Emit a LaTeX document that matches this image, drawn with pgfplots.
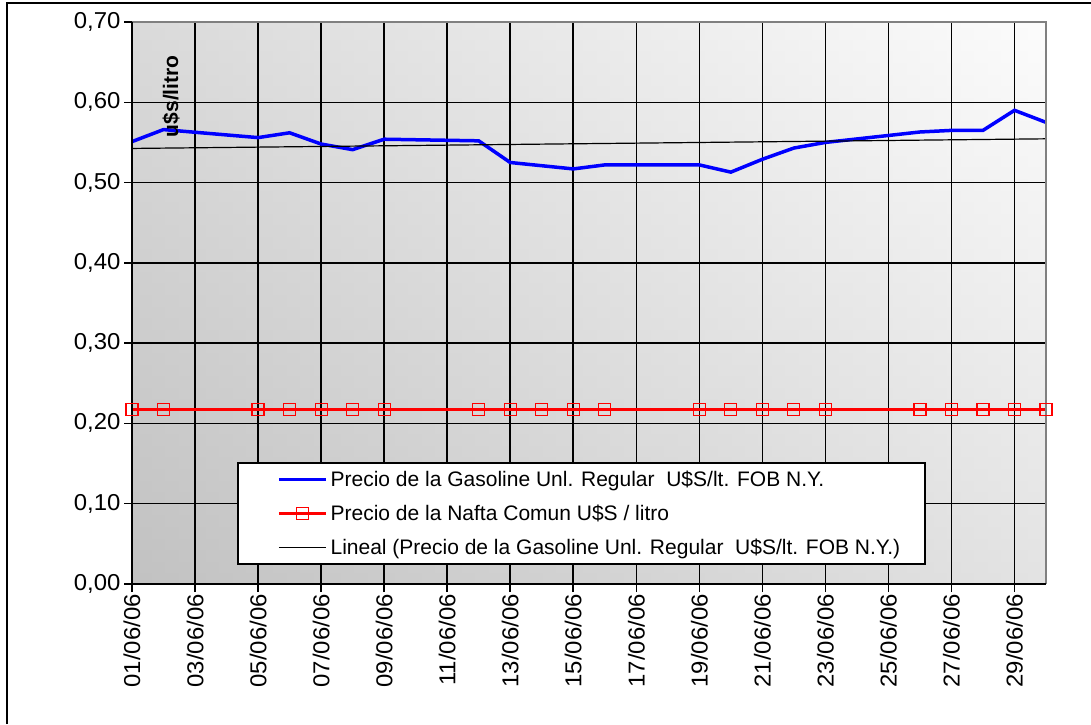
\documentclass[border=0pt]{standalone}
\usepackage{pgfplots}
\pgfplotsset{compat=1.18}
\usepackage{fontspec}
\setmainfont{Liberation Sans}
\newfontfamily\widefont[FakeStretch=1.04]{Liberation Sans}
\begin{document}
\begin{tikzpicture}[x=1pt,y=1pt]
\useasboundingbox (0,0) rectangle (1091,724);
\draw[line width=2pt] (7,0) -- (7,721) -- (1091,721);
\begin{axis}[
  at={(132pt,140pt)}, anchor=south west,
  scale only axis, width=914pt, height=562pt,
  xmin=1, xmax=30, ymin=0, ymax=0.7,
  clip=false,
  font=\fontsize{21}{24}\selectfont,
  axis background/.style={preaction={fill, left color=black!29, right color=white!97.6!black},
     top color=white, bottom color=black!19, fill opacity=0.5},
  axis line style={draw=none},
  tick pos=left, tick align=outside, major tick length=8pt,
  tick style={black, line width=1.5pt},
  grid=major, major grid style={black, line width=1.5pt},
  tick label style={font=\widefont\fontsize{23}{25}\selectfont},
  xtick={1,3,5,7,9,11,13,15,17,19,21,23,25,27,29},
  xticklabels={01/06/06,03/06/06,05/06/06,07/06/06,09/06/06,11/06/06,13/06/06,15/06/06,17/06/06,19/06/06,21/06/06,23/06/06,25/06/06,27/06/06,29/06/06},
  xticklabel style={rotate=90, anchor=east, inner sep=2pt},
  ytick={0,0.1,0.2,0.3,0.4,0.5,0.6,0.7},
  yticklabel style={/pgf/number format/.cd, fixed, fixed zerofill, precision=2, use comma, assume math mode=true},
  ylabel={\fontsize{21}{23}\selectfont\bfseries u\$s/litro},
  ylabel style={at={(axis description cs:0.0427,0.868)}, anchor=center},
  legend style={at={(0.115,0.034)}, anchor=south west, draw=black, line width=1.5pt, fill=white,
    inner xsep=22pt, inner ysep=5pt, row sep=11pt, font=\fontsize{21}{24}\selectfont,
    nodes={inner sep=3pt}},
  legend cell align=left,
  legend image code/.code={\path[draw=none, mark=none] (0pt,0pt) -- (19pt,0pt); \draw[mark repeat=2, mark phase=2, #1] plot coordinates {(19pt,0pt) (42.5pt,0pt) (66pt,0pt)};},
]
\addplot[blue, line width=3.5pt] coordinates {
(1,0.551) (2,0.566) (5,0.556) (6,0.562) (7,0.548) (8,0.541) (9,0.554) (12,0.552)
(13,0.525) (14,0.521) (15,0.517) (16,0.522) (19,0.522) (20,0.513) (21,0.529) (22,0.543)
(23,0.550) (26,0.563) (27,0.565) (28,0.565) (29,0.590) (30,0.575)};
\addlegendentry{Precio de la Gasoline Unl. Regular\ \ U\$S/lt. FOB N.Y.}
\addplot[draw=red, mark=square, mark size=6pt, mark options={solid, draw=red, line width=1.2pt}, line width=2.8pt] coordinates {
(1,0.217) (2,0.217) (5,0.217) (6,0.217) (7,0.217) (8,0.217) (9,0.217) (12,0.217)
(13,0.217) (14,0.217) (15,0.217) (16,0.217) (19,0.217) (20,0.217) (21,0.217) (22,0.217)
(23,0.217) (26,0.217) (27,0.217) (28,0.217) (29,0.217) (30,0.217)};
\addlegendentry{Precio de la Nafta Comun U\$S / litro}
\addplot[black, line width=1.2pt] coordinates {(1,0.5425) (30,0.5545)};
\addlegendentry{Lineal (Precio de la Gasoline Unl. Regular\ \ U\$S/lt. FOB N.Y.)}
\draw[gray, line width=2pt] (rel axis cs:0,1) -- (rel axis cs:1,1) -- (rel axis cs:1,0);
\draw[black, line width=1.5pt] (rel axis cs:0,1) -- (rel axis cs:0,0) -- (rel axis cs:1,0);
\end{axis}
\end{tikzpicture}
\end{document}
